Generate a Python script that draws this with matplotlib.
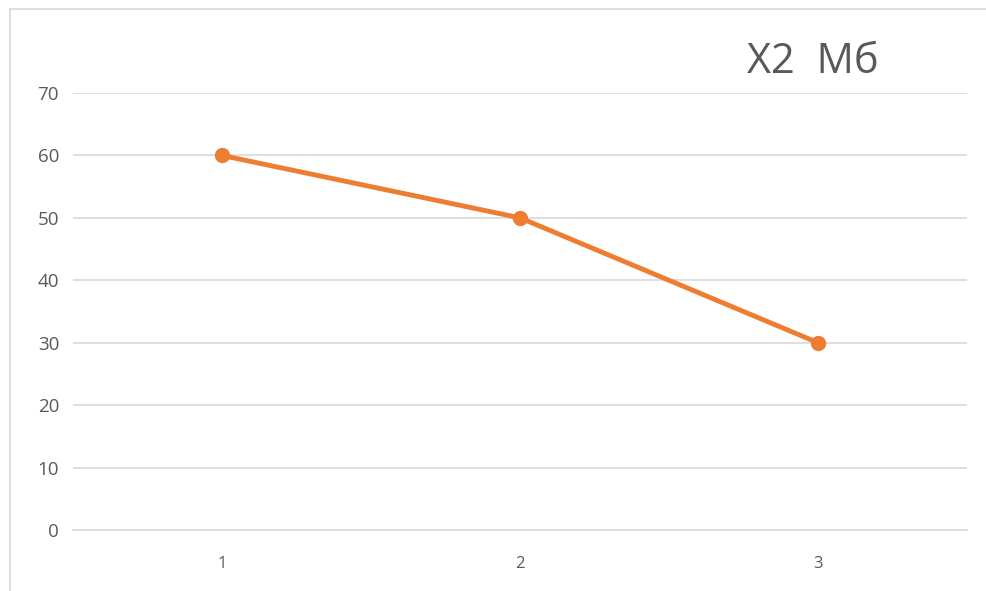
import matplotlib.pyplot as plt
from matplotlib.patches import Rectangle

categories = ["1", "2", "3"]
values = [60, 50, 30]
y_ticks = [0, 10, 20, 30, 40, 50, 60, 70]
title = "X2  Мб"

plt.rcParams['font.family'] = ['Open Sans', 'DejaVu Sans']

fig = plt.figure(figsize=(9.86, 5.91), dpi=100)
fig.patch.set_facecolor('white')

# chart frame (light gray, left and top edges visible)
frame = Rectangle((10 / 986, -0.1), 1.2, 1 - 9 / 591 + 0.1, transform=fig.transFigure,
                  fill=False, edgecolor='#d9d9d9', linewidth=1.2)
fig.add_artist(frame)

ax = fig.add_axes([73 / 986, 1 - 530 / 591, (967 - 73) / 986, (530 - 93) / 591])
x = list(range(1, len(categories) + 1))
ax.plot(x, values, color='#ED7D31', linewidth=3.5, marker='o', markersize=10,
        solid_capstyle='round', zorder=3)

ax.set_xlim(0.5, len(categories) + 0.5)
ax.set_ylim(0, 70)
ax.set_yticks(y_ticks)
ax.set_xticks(x)
ax.set_xticklabels(categories)
ax.yaxis.grid(True, color='#d9d9d9', linewidth=1.2)
ax.set_axisbelow(True)
for s in ['top', 'right', 'left']:
    ax.spines[s].set_visible(False)
ax.spines['bottom'].set_color('#d9d9d9')
ax.spines['bottom'].set_linewidth(1.2)
ax.tick_params(axis='both', length=0, colors='#595959')
ax.tick_params(axis='y', labelsize=13.5, pad=10)
ax.tick_params(axis='x', labelsize=12, pad=19)

fig.text(813 / 986, 1 - 62 / 591, title, fontsize=30, color='#595959',
         ha='center', va='center')

fig.savefig('out.png', dpi=100, facecolor='white')
